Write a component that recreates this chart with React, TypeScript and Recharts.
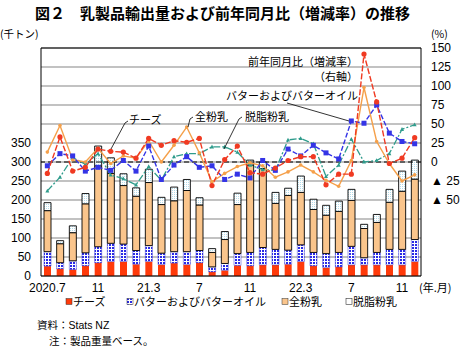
import React from "react"
import {
  ComposedChart,
  Bar,
  Line,
  XAxis,
  YAxis,
  CartesianGrid,
  ReferenceLine,
} from "recharts"

// 2020.7 - 2022.12
const months = [
  "2020.7", "2020.8", "2020.9", "2020.10", "2020.11", "2020.12",
  "2021.1", "2021.2", "2021.3", "2021.4", "2021.5", "2021.6",
  "2021.7", "2021.8", "2021.9", "2021.10", "2021.11", "2021.12",
  "2022.1", "2022.2", "2022.3", "2022.4", "2022.5", "2022.6",
  "2022.7", "2022.8", "2022.9", "2022.10", "2022.11", "2022.12",
]
const tickLabels = [
  "2020.7", "", "", "", "11", "", "", "", "21.3", "", "", "",
  "7", "", "", "", "11", "", "", "", "22.3", "", "", "",
  "7", "", "", "", "11", "",
]

// export volume, thousand tonnes
const cheese = [26, 19, 17, 27, 35, 38, 38, 31, 38, 30, 34, 30, 35, 11, 15, 28, 27, 29, 29, 31, 38, 27, 22, 24, 29, 29, 29, 29, 29, 38]
const butter = [38, 16, 23, 34, 42, 48, 46, 36, 42, 30, 30, 34, 32, 13, 18, 31, 35, 46, 41, 37, 44, 35, 37, 38, 49, 19, 33, 41, 41, 58]
const wmp = [108, 50, 74, 129, 213, 184, 154, 143, 166, 128, 134, 161, 120, 38, 63, 129, 230, 208, 121, 144, 138, 113, 101, 108, 121, 77, 79, 124, 153, 159]
const smp = [21, 8, 18, 27, 52, 41, 31, 22, 35, 19, 36, 29, 19, 10, 21, 30, 13, 17, 29, 19, 43, 27, 26, 27, 29, 11, 21, 34, 53, 50]

// year-on-year change, %
const cheeseYoY = [-15, 33, -12, -7, 17, 14, 13, 5, 31, 22, 28, 26, 31, -31, 3, 21, -14, -16, -8, 2, 7, 7, -30, -16, -16, 142, 79, -2, 5, 32]
const butterYoY = [-5, 11, 8, -12, -7, -11, 2, -12, 21, -23, -4, 7, -7, -5, -23, -16, -21, 2, -11, 17, 8, 22, 12, 4, 54, 51, 75, 38, 27, 24]
const wmpYoY = [13, 48, 3, 0, 18, -2, 8, 5, 28, 0, 22, 46, 12, -26, -15, -6, -1, -5, -20, -13, -4, -13, -24, -32, 2, 98, 27, -2, -25, -17]
const smpYoY = [-38, -20, 6, -3, 11, -17, -22, -30, -6, -24, 7, 11, 11, 20, 20, 13, -4, -10, -11, 29, 31, 24, -19, -4, 30, 0, 2, 11, 43, 49]

const leftTicks = [0, 50, 100, 150, 200, 250, 300, 350, 400, 450, 500, 550, 600]
const rightTicks = [-150, -125, -100, -75, -50, -25, 0, 25, 50, 75, 100, 125, 150]

const data = months.map((m, i) => ({
  month: m,
  cheese: cheese[i],
  butter: butter[i],
  wmp: wmp[i],
  smp: smp[i],
  cheeseYoY: cheeseYoY[i],
  butterYoY: butterYoY[i],
  wmpYoY: wmpYoY[i],
  smpYoY: smpYoY[i],
}))

const NUM_FONT = "'Liberation Sans', Arial, 'Noto Sans CJK JP', sans-serif"
const JP_FONT = "'Noto Sans CJK JP', 'Liberation Sans', sans-serif"

const RED = "#f03a22"
const BLUE = "#3434e6"
const ORANGE = "#f5a04a"
const TEAL = "#2f9c8c"

const circleDot = (p: any) => (
  <circle key={`c${p.index}`} cx={p.cx} cy={p.cy} r={2.6} fill={RED} />
)
const squareDot = (p: any) => (
  <rect key={`s${p.index}`} x={p.cx - 2.5} y={p.cy - 2.5} width={5} height={5} fill={BLUE} />
)
const diamondDot = (p: any) => (
  <circle key={`d${p.index}`} cx={p.cx} cy={p.cy} r={1.8} fill={ORANGE} />
)
const triDot = (p: any) => (
  <path
    key={`t${p.index}`}
    d={`M${p.cx},${p.cy - 2.2}L${p.cx + 2},${p.cy + 1.6}L${p.cx - 2},${p.cy + 1.6}Z`}
    fill={TEAL}
  />
)

export default function App() {
  return (
    <div style={{ position: "absolute", left: 0, top: 0, width: 462, height: 347, background: "#fff" }}>
      <ComposedChart
        width={462}
        height={300}
        data={data}
        margin={{ top: 48, right: 0, left: 0, bottom: 0 }}
        barCategoryGap={0}
      >
        <defs>
          <pattern id="butterPat" width="3" height="3" patternUnits="userSpaceOnUse">
            <rect width="3" height="3" fill="#ffffff" />
            <rect x="1" y="1" width="2" height="2" fill="#2a2ae6" />
          </pattern>
          <pattern id="smpPat" width="2" height="2" patternUnits="userSpaceOnUse">
            <rect width="2" height="2" fill="#ffffff" />
            <rect width="1" height="1" fill="#b4dcea" />
          </pattern>
        </defs>
        <CartesianGrid yAxisId="left" vertical={false} stroke="#858585" strokeWidth={1} />
        <XAxis
          dataKey="month"
          interval={0}
          tickLine={false}
          tickSize={0}
          tickMargin={7}
          height={24}
          axisLine={{ stroke: "#000" }}
          tickFormatter={(v: string) => tickLabels[months.indexOf(v)]}
          tick={{ fill: "#000", fontSize: 12, fontFamily: NUM_FONT }}
        />
        <YAxis
          yAxisId="left"
          width={41}
          domain={[0, 600]}
          ticks={leftTicks}
          interval={0}
          tickLine={false}
          tickSize={0}
          tickMargin={10}
          axisLine={{ stroke: "#000" }}
          tickFormatter={(v: number) => (v <= 350 ? String(v) : "")}
          tick={{ fill: "#000", fontSize: 12, fontFamily: NUM_FONT }}
        />
        <YAxis
          yAxisId="right"
          orientation="right"
          width={41}
          domain={[-150, 150]}
          ticks={rightTicks}
          interval={0}
          tickLine={false}
          tickSize={0}
          tickMargin={10}
          axisLine={{ stroke: "#000" }}
          tickFormatter={(v: number) => (v < -50 ? "" : v < 0 ? `▲ ${-v}` : String(v))}
          tick={{ fill: "#000", fontSize: 12, fontFamily: NUM_FONT, textAnchor: "start" }}
        />
        <ReferenceLine yAxisId="left" y={600} stroke="#000" />
        <Bar yAxisId="left" dataKey="cheese" stackId="v" barSize={7} fill="#ff3a0a" isAnimationActive={false} />
        <Bar yAxisId="left" dataKey="butter" stackId="v" barSize={7} fill="url(#butterPat)" stroke="#3a3ad0" strokeWidth={0.5} isAnimationActive={false} />
        <Bar yAxisId="left" dataKey="wmp" stackId="v" barSize={7} fill="#fac58c" stroke="#000" strokeWidth={0.9} isAnimationActive={false} />
        <Bar yAxisId="left" dataKey="smp" stackId="v" barSize={7} fill="url(#smpPat)" stroke="#000" strokeWidth={0.9} isAnimationActive={false} />
        <ReferenceLine yAxisId="right" y={0} stroke="#000" strokeWidth={1.2} strokeDasharray="5 3" />
        <Line yAxisId="right" dataKey="smpYoY" stroke={TEAL} strokeWidth={1.3} strokeDasharray="7 2 2 2" dot={triDot} activeDot={false} isAnimationActive={false} />
        <Line yAxisId="right" dataKey="wmpYoY" stroke={ORANGE} strokeWidth={1.4} dot={diamondDot} activeDot={false} isAnimationActive={false} />
        <Line yAxisId="right" dataKey="butterYoY" stroke={BLUE} strokeWidth={1.4} strokeDasharray="5 2" dot={squareDot} activeDot={false} isAnimationActive={false} />
        <Line yAxisId="right" dataKey="cheeseYoY" stroke={RED} strokeWidth={1.4} strokeDasharray="6 2" dot={circleDot} activeDot={false} isAnimationActive={false} />
      </ComposedChart>

      <svg
        width={462}
        height={347}
        style={{ position: "absolute", left: 0, top: 0, pointerEvents: "none" }}
      >
        <g fontFamily={JP_FONT} fill="#000">
          <text x={35} y={18.5} fontSize={15} fontWeight="bold">
            図２　乳製品輸出量および前年同月比（増減率）の推移
          </text>
          <text x={0} y={37.5} fontSize={10.5}>(千トン)</text>
          <text x={431} y={37.5} fontSize={10.5}>(%)</text>

          <text x={358} y={66} fontSize={11} textAnchor="end">前年同月比（増減率）</text>
          <text x={358} y={81} fontSize={11} textAnchor="end">（右軸）</text>
          <text x={358} y={100} fontSize={11} textAnchor="end">バターおよびバターオイル</text>
          <text x={129} y={124} fontSize={11}>チーズ</text>
          <text x={195} y={121} fontSize={11}>全粉乳</text>
          <text x={245} y={121} fontSize={11}>脱脂粉乳</text>

          <text x={419} y={292} fontSize={11}>(年.月)</text>

          <rect x={66} y={298.5} width={6} height={6} fill="#ff3a0a" stroke="#333" strokeWidth={0.5} />
          <text x={73} y={306} fontSize={11}>チーズ</text>
          <rect x={127} y={298.5} width={6} height={6} fill="url(#butterPat)" stroke="#333" strokeWidth={0.5} />
          <text x={134} y={306} fontSize={11}>バターおよびバターオイル</text>
          <rect x={282} y={298.5} width={6} height={6} fill="#fac58c" stroke="#333" strokeWidth={0.5} />
          <text x={289} y={306} fontSize={11}>全粉乳</text>
          <rect x={346} y={298.5} width={6} height={6} fill="#fff" stroke="#333" strokeWidth={0.6} />
          <text x={353} y={306} fontSize={11}>脱脂粉乳</text>

          <text x={37} y={329} fontSize={10.5}>
            資料：<tspan fontFamily={NUM_FONT}>Stats NZ</tspan>
          </text>
          <text x={49} y={345} fontSize={10.5}>注：製品重量ベース。</text>
        </g>
        <g stroke="#000" strokeWidth={0.8} fill="none">
          <path d="M128,121 L125,123 L111,149" />
          <path d="M193,117 L190,119 L188,127" />
          <path d="M242,117 L239,119 L224,149" />
          <path d="M287,103 L349,121" />
        </g>
      </svg>
    </div>
  )
}
